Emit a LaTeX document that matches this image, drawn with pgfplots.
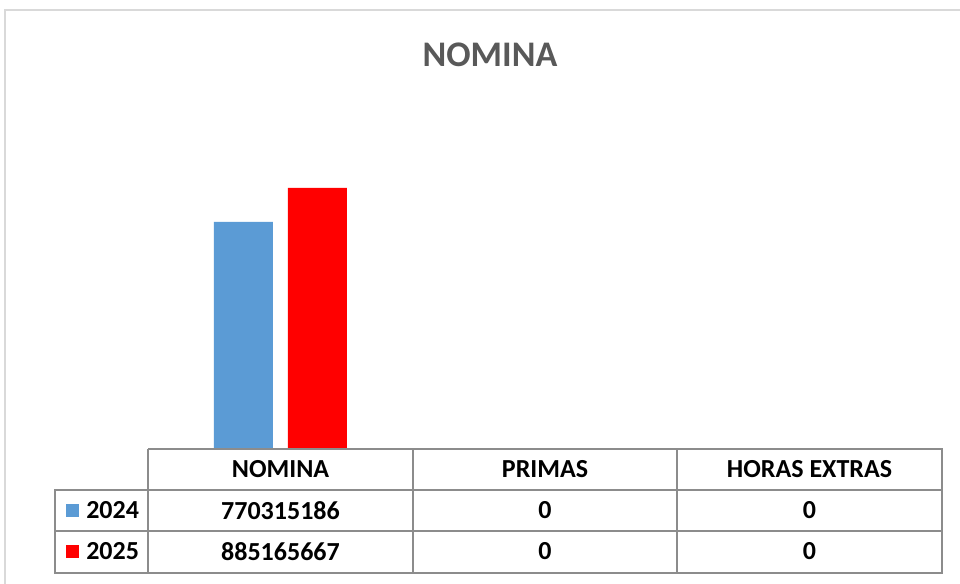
\documentclass[border=0pt]{standalone}
\usepackage{pgfplots}
\pgfplotsset{compat=1.18}
\usepackage{fontspec}
\setmainfont{Carlito}
\definecolor{cblue}{HTML}{5B9BD5}
\definecolor{cred}{HTML}{FF0000}
\definecolor{ctitle}{HTML}{595959}
\definecolor{cgrid}{HTML}{8C8C8C}
\definecolor{cframe}{HTML}{D9D9D9}
\begin{document}
\begin{tikzpicture}[x=0.75pt,y=0.75pt]
\useasboundingbox (0,0) rectangle (960,583);
\fill[white] (0,0) rectangle (960,583);
\begin{scope}
\clip (0,0) rectangle (960,583);
\draw[cframe,line width=1.5pt] (5,-20) -- (5,573) -- (990,573);
\end{scope}
\node[font=\fontsize{27}{30}\selectfont\bfseries,text=ctitle] at (490,528) {NOMINA};
\coordinate (A) at (148,134);
\begin{axis}[
  at={(A)}, anchor=south west,
  scale only axis, width=595.5pt, height=221.25pt,
  xmin=0.5, xmax=3.5, ymin=0, ymax=1000000000,
  axis lines=none, ticks=none, clip=false,
  ybar, bar width=44.25pt,
]
\addplot[fill=cblue, draw=none, bar shift=-27.75pt] coordinates {(1,770315186) (2,0) (3,0)};
\addplot[fill=cred, draw=none, bar shift=27.75pt] coordinates {(1,885165667) (2,0) (3,0)};
\end{axis}
% data table
\draw[cgrid,line width=1.5pt] (148,134) -- (942,134) -- (942,10) -- (55,10) -- (55,93) -- (148,93);
\draw[cgrid,line width=1.5pt] (148,134) -- (148,10);
\draw[cgrid,line width=1.5pt] (413,134) -- (413,10);
\draw[cgrid,line width=1.5pt] (677,134) -- (677,10);
\draw[cgrid,line width=1.5pt] (55,93) -- (942,93);
\draw[cgrid,line width=1.5pt] (55,52) -- (942,52);
\begin{scope}[every node/.style={font=\fontsize{19.5}{22}\selectfont\bfseries, inner sep=0pt}]
\node at (280.5,113.5) {NOMINA};
\node at (545,113.5) {PRIMAS};
\node at (809.5,113.5) {HORAS EXTRAS};
\node at (280.5,72.5) {770315186};
\node at (545,72.5) {0};
\node at (809.5,72.5) {0};
\node at (280.5,31.5) {885165667};
\node at (545,31.5) {0};
\node at (809.5,31.5) {0};
\fill[cblue] (66,66) rectangle (79,79);
\fill[cred] (66,25) rectangle (79,38);
\node[anchor=west] at (86,72.5) {2024};
\node[anchor=west] at (86,31.5) {2025};
\end{scope}
\end{tikzpicture}
\end{document}
